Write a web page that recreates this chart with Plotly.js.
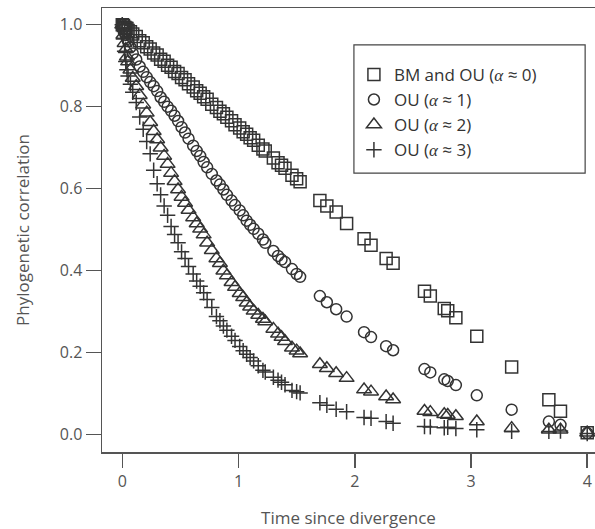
<!DOCTYPE html>
<html>
<head>
<meta charset="utf-8">
<script src="https://cdn.plot.ly/plotly-3.0.1.min.js"></script>
<style>html,body{margin:0;padding:0;background:#fff;}</style>
</head>
<body>
<div id="chart" style="width:595px;height:529px;"></div>
<script>
// Time since divergence (shared by all four series)
var times = [0.00,0.01,0.02,0.03,0.04,0.05,0.07,0.09,0.12,0.15,0.18,0.21,0.24,0.27,0.30,0.33,0.36,0.39,0.42,0.45,
  0.48,0.51,0.54,0.57,0.61,0.64,0.67,0.70,0.73,0.77,0.81,0.84,0.87,0.90,0.94,0.97,1.01,1.04,1.07,1.10,
  1.13,1.17,1.21,1.23,1.30,1.34,1.37,1.40,1.46,1.50,1.53,1.70,1.76,1.84,1.93,2.08,2.14,2.27,2.33,2.60,
  2.65,2.77,2.80,2.87,3.05,3.35,3.67,3.77,4.00];

var corrBM = [1.000,0.998,0.994,0.992,0.991,0.986,0.983,0.977,0.971,0.961,0.956,0.946,0.941,0.931,0.926,0.916,0.911,0.901,0.896,0.886,
  0.881,0.871,0.866,0.856,0.848,0.839,0.833,0.824,0.818,0.806,0.798,0.789,0.783,0.774,0.766,0.756,0.748,0.739,0.733,0.724,
  0.718,0.706,0.697,0.692,0.675,0.663,0.657,0.650,0.633,0.624,0.617,0.571,0.558,0.543,0.515,0.478,0.462,0.430,0.418,0.350,
  0.338,0.308,0.302,0.285,0.240,0.165,0.085,0.057,0.005];

var corrOU1 = [1.000,0.990,0.980,0.975,0.965,0.960,0.945,0.930,0.915,0.898,0.885,0.872,0.860,0.850,0.838,0.823,0.812,0.800,0.790,0.778,
  0.765,0.750,0.737,0.722,0.705,0.692,0.680,0.665,0.652,0.636,0.620,0.610,0.598,0.585,0.571,0.560,0.547,0.535,0.522,0.512,
  0.502,0.490,0.476,0.468,0.448,0.436,0.427,0.421,0.404,0.392,0.385,0.338,0.323,0.306,0.288,0.250,0.238,0.216,0.206,0.160,
  0.152,0.135,0.131,0.121,0.096,0.061,0.032,0.024,0.004];

var corrOU2 = [1.000,0.975,0.955,0.940,0.922,0.910,0.890,0.870,0.850,0.828,0.805,0.785,0.762,0.740,0.720,0.700,0.680,0.660,0.638,0.618,
  0.598,0.580,0.565,0.548,0.530,0.515,0.502,0.488,0.468,0.450,0.430,0.418,0.400,0.388,0.372,0.360,0.345,0.335,0.322,0.312,
  0.302,0.292,0.282,0.276,0.258,0.246,0.238,0.228,0.212,0.205,0.198,0.172,0.162,0.150,0.138,0.110,0.105,0.093,0.086,0.058,
  0.055,0.050,0.048,0.045,0.032,0.016,0.012,0.012,0.005];

var corrOU3 = [1.000,0.965,0.935,0.910,0.890,0.875,0.855,0.835,0.810,0.775,0.745,0.715,0.685,0.645,0.612,0.585,0.558,0.535,0.508,0.488,
  0.468,0.446,0.430,0.410,0.392,0.375,0.362,0.346,0.330,0.310,0.288,0.278,0.265,0.255,0.240,0.230,0.215,0.205,0.196,0.188,
  0.180,0.168,0.157,0.153,0.140,0.133,0.128,0.122,0.108,0.105,0.102,0.078,0.072,0.062,0.056,0.042,0.040,0.032,0.028,0.020,
  0.019,0.017,0.018,0.015,0.012,0.008,0.008,0.009,0.003];

var seriesNames = [
  'BM and OU (<span style="font-family:\'Liberation Serif\'"><i>α</i></span> ≈ 0)',
  'OU (<span style="font-family:\'Liberation Serif\'"><i>α</i></span> ≈ 1)',
  'OU (<span style="font-family:\'Liberation Serif\'"><i>α</i></span> ≈ 2)',
  'OU (<span style="font-family:\'Liberation Serif\'"><i>α</i></span> ≈ 3)'
];
var yTicks = [0, 0.2, 0.4, 0.6, 0.8, 1.0];
var yTickText = ['0.0','0.2','0.4','0.6','0.8','1.0'];
var xTicks = [0, 1, 2, 3, 4];

var ink = '#333';
function tr(y, name, symbol, size) {
  return {x: times, y: y, name: name, type: 'scatter', mode: 'markers',
    marker: {symbol: symbol, size: size, color: ink,
             line: {color: ink, width: 1.5}}};
}
var data = [
  tr(corrBM, seriesNames[0], 'square-open', 12),
  tr(corrOU1, seriesNames[1], 'circle-open', 11),
  tr(corrOU2, seriesNames[2], 'triangle-up-open', 13),
  tr(corrOU3, seriesNames[3], 'cross-thin-open', 11)
];

var axisCol = '#555';
var layout = {
  width: 595, height: 529,
  margin: {l: 102, r: 0, t: 8, b: 77, pad: 0},
  paper_bgcolor: '#fff', plot_bgcolor: '#fff',
  font: {family: 'Open Sans, sans-serif', size: 16, color: '#555'},
  showlegend: true,
  legend: {x: 0.511, y: 0.89, xanchor: 'left', yanchor: 'top',
    bgcolor: 'rgba(0,0,0,0)', borderwidth: 0,
    font: {family: 'Open Sans, sans-serif', size: 17, color: '#333'},
    itemwidth: 30},
  shapes: [{type: 'rect', xref: 'paper', yref: 'paper',
    x0: 0.511, x1: 0.980, y0: 0.628, y1: 0.917,
    line: {color: '#444', width: 1.2}, fillcolor: 'rgba(0,0,0,0)'}],
  xaxis: {range: [-0.1745, 4.067], tickvals: xTicks, ticks: 'outside', ticklen: 14,
    tickwidth: 1.5, tickcolor: axisCol, showline: true, linecolor: axisCol, linewidth: 1.5,
    mirror: true, showgrid: false, zeroline: false,
    tickfont: {size: 16, color: '#555'},
    title: {text: 'Time since divergence', font: {size: 17, color: '#555'}, standoff: 21}},
  yaxis: {range: [-0.0422, 1.0407], tickvals: yTicks, ticktext: yTickText, ticks: 'outside', ticklen: 15,
    tickwidth: 1.5, tickcolor: axisCol, showline: true, linecolor: axisCol, linewidth: 1.5,
    mirror: false, showgrid: false, zeroline: false,
    tickfont: {size: 16, color: '#555'},
    title: {text: 'Phylogenetic correlation', font: {size: 17, color: '#555'}, standoff: 26}}
};
Plotly.newPlot('chart', data, layout, {staticPlot: true, displayModeBar: false});
</script>
</body>
</html>
